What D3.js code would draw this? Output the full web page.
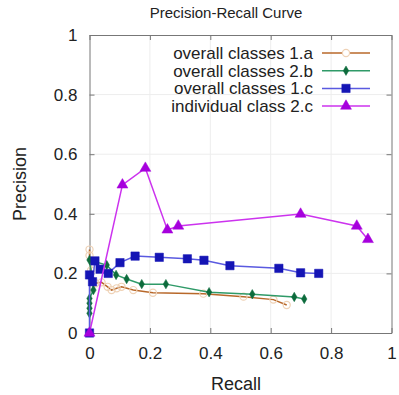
<!DOCTYPE html>
<html>
<head>
<meta charset="utf-8">
<script src="https://cdn.jsdelivr.net/npm/d3@7"></script>
<style>
  html, body { margin: 0; padding: 0; background: #fff; }
  svg text { font-family: "Liberation Sans", Arial, sans-serif; fill: #222; }
</style>
</head>
<body>
<div id="chart"></div>
<script>
// Precision-recall points, [recall, precision]
const overall1a = [[0, 0.28], [0, 0.26], [0.005, 0.21], [0.02, 0.167], [0.04, 0.17], [0.06, 0.155],
  [0.073, 0.144], [0.09, 0.15], [0.106, 0.155], [0.145, 0.144], [0.21, 0.135], [0.377, 0.132],
  [0.51, 0.122], [0.609, 0.112], [0.653, 0.094]];
const overall2b = [[0, 0.066], [0, 0.083], [0, 0.1], [0, 0.116], [0.013, 0.144], [0, 0.245],
  [0.057, 0.228], [0.088, 0.195], [0.123, 0.181], [0.173, 0.164], [0.253, 0.164], [0.396, 0.137],
  [0.539, 0.13], [0.678, 0.121], [0.711, 0.114]];
const overall1c = [[0, 0], [0, 0.195], [0.01, 0.172], [0.018, 0.242], [0.035, 0.214], [0.062, 0.2],
  [0.101, 0.236], [0.151, 0.258], [0.231, 0.254], [0.324, 0.249], [0.379, 0.244], [0.465, 0.226],
  [0.627, 0.217], [0.699, 0.202], [0.759, 0.2]];
const individual2c = [[0, 0], [0.109, 0.497], [0.185, 0.553], [0.258, 0.346], [0.294, 0.359],
  [0.699, 0.399], [0.885, 0.359], [0.922, 0.314]];

const seriesNames = ["overall classes 1.a", "overall classes 2.b", "overall classes 1.c", "individual class 2.c"];
const tickValues = [0, 0.2, 0.4, 0.6, 0.8, 1];

const series = [
  { name: seriesNames[0], data: overall1a, line: "#b8682a", mark: "#efd2b6", shape: "circle" },
  { name: seriesNames[1], data: overall2b, line: "#2f9a68", mark: "#0d6b3c", shape: "diamond" },
  { name: seriesNames[2], data: overall1c, line: "#5a5ae0", mark: "#1515b5", shape: "square" },
  { name: seriesNames[3], data: individual2c, line: "#cc33ee", mark: "#a600dd", shape: "triangle" },
];

const W = 399, H = 395;
const margin = { left: 89.5, right: 7.5, top: 35, bottom: 62 };
const plotW = W - margin.left - margin.right;
const plotH = H - margin.top - margin.bottom;

const svg = d3.select("#chart").append("svg").attr("width", W).attr("height", H);

const x = d3.scaleLinear().domain([0, 1]).range([margin.left, margin.left + plotW]);
const y = d3.scaleLinear().domain([0, 1]).range([margin.top + plotH, margin.top]);

// faint grid
svg.append("g")
  .selectAll("line")
  .data(tickValues.slice(1, -1))
  .join("line")
  .attr("x1", (d) => x(d)).attr("x2", (d) => x(d))
  .attr("y1", y(0)).attr("y2", y(1))
  .attr("stroke", "#ededed");
svg.append("g")
  .selectAll("line")
  .data(tickValues.slice(1, -1))
  .join("line")
  .attr("y1", (d) => y(d)).attr("y2", (d) => y(d))
  .attr("x1", x(0)).attr("x2", x(1))
  .attr("stroke", "#ededed");

// axes with inward ticks on all four sides
const frameColor = "#777";
function styleAxis(g) {
  g.select(".domain").attr("stroke", frameColor);
  g.selectAll(".tick line").attr("stroke", frameColor);
  g.selectAll(".tick text").style("font-size", "17px").attr("fill", "#222");
}
svg.append("g")
  .attr("transform", "translate(0," + y(0) + ")")
  .call(d3.axisBottom(x).tickValues(tickValues).tickFormat(d3.format("~g")).tickSizeInner(-5).tickSizeOuter(0).tickPadding(14))
  .call(styleAxis);
svg.append("g")
  .attr("transform", "translate(0," + y(1) + ")")
  .call(d3.axisTop(x).tickValues(tickValues).tickFormat("").tickSizeInner(-5).tickSizeOuter(0))
  .call(styleAxis);
svg.append("g")
  .attr("transform", "translate(" + x(0) + ",0)")
  .call(d3.axisLeft(y).tickValues(tickValues).tickFormat(d3.format("~g")).tickSizeInner(-5).tickSizeOuter(0).tickPadding(12))
  .call(styleAxis);
svg.append("g")
  .attr("transform", "translate(" + x(1) + ",0)")
  .call(d3.axisRight(y).tickValues(tickValues).tickFormat("").tickSizeInner(-5).tickSizeOuter(0))
  .call(styleAxis);

const symbolFor = {
  circle: d3.symbol().type(d3.symbolCircle).size(40),
  diamond: d3.symbol().type(d3.symbolDiamond).size(26),
  square: d3.symbol().type(d3.symbolSquare).size(70),
  triangle: d3.symbol().type(d3.symbolTriangle).size(52),
};

const line = d3.line().x((d) => x(d[0])).y((d) => y(d[1]));

series.forEach((s) => {
  const g = svg.append("g");
  g.append("path")
    .datum(s.data)
    .attr("d", line)
    .attr("fill", "none")
    .attr("stroke", s.line)
    .attr("stroke-width", 1.5);
  g.selectAll("path.mark")
    .data(s.data)
    .join("path")
    .attr("class", "mark")
    .attr("transform", (d) => "translate(" + x(d[0]) + "," + y(d[1]) + ")")
    .attr("d", symbolFor[s.shape])
    .attr("fill", s.shape === "circle" ? "none" : s.mark)
    .attr("stroke", s.mark)
    .attr("stroke-width", s.shape === "circle" ? 1.2 : 0.5);
});

// legend
const legend = svg.append("g");
series.forEach((s, i) => {
  const ly = 53 + i * 17.7;
  legend.append("text")
    .attr("x", 313).attr("y", ly).attr("dy", "0.35em")
    .attr("text-anchor", "end")
    .style("font-size", "17px")
    .text(s.name);
  legend.append("line")
    .attr("x1", 322).attr("x2", 370).attr("y1", ly).attr("y2", ly)
    .attr("stroke", s.line).attr("stroke-width", 1.5);
  legend.append("path")
    .attr("transform", "translate(346," + ly + ")")
    .attr("d", symbolFor[s.shape])
    .attr("fill", s.shape === "circle" ? "#fff" : s.mark)
    .attr("stroke", s.mark)
    .attr("stroke-width", s.shape === "circle" ? 1.2 : 0.5);
});

// titles
svg.append("text")
  .attr("x", 226).attr("y", 18)
  .attr("text-anchor", "middle")
  .style("font-size", "15px")
  .text("Precision-Recall Curve");
svg.append("text")
  .attr("x", 236).attr("y", 390)
  .attr("text-anchor", "middle")
  .style("font-size", "18px")
  .text("Recall");
svg.append("text")
  .attr("transform", "translate(26,184) rotate(-90)")
  .attr("text-anchor", "middle")
  .style("font-size", "18px")
  .text("Precision");
</script>
</body>
</html>
